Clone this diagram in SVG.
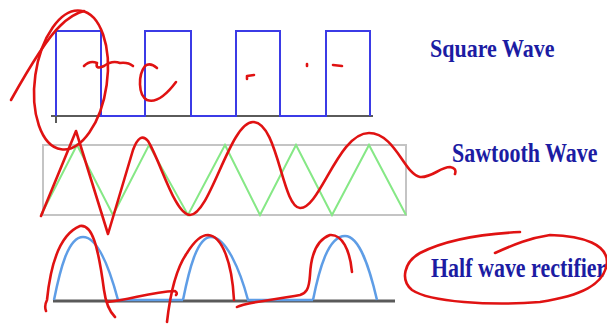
<svg xmlns="http://www.w3.org/2000/svg" width="607" height="324" viewBox="0 0 607 324">
<style>
.lbl{font-family:"Liberation Serif","Times New Roman",serif;font-weight:bold;font-size:22px;fill:#1c1ca3}
.axis{stroke:#5a5a5a;fill:none}
.sq{stroke:#3b3be6;stroke-width:2;fill:none}
.saw{stroke:#86e886;stroke-width:2;fill:none}
.box{stroke:#c4c4c4;stroke-width:2;fill:none}
.hw{stroke:#5e9de6;stroke-width:2.5;fill:none}
.ink{stroke:#e01212;stroke-width:2.6;fill:none;stroke-linecap:round;stroke-linejoin:round}
</style>
<rect width="607" height="324" fill="#ffffff"/>
<g id="square-wave">
<path class="axis" stroke-width="2" d="M51,116 H373 M56,116 V123"/>
<path class="sq" d="M56,116 V31 H101 V116 H145 V31 H191 V116 H236 V31 H280 V116 H326 V31 H370 V116"/>
</g>
<g id="sawtooth-wave">
<rect class="box" x="43" y="145" width="363" height="70"/>
<path class="saw" d="M41,215 L77,145 L113,215 L149,145 L188,215 L225,145 L260,215 L296,145 L332,215 L369,145 L406,215"/>
</g>
<g id="half-wave">
<path class="axis" stroke-width="3" d="M53,301 H395"/>
<path class="hw" d="M118,300 H183 M247,300 H313"/>
<path class="hw" d="M54,300 C60,270 68,237 83,237 C98,237 110,270 118,300"/>
<path class="hw" d="M183,300 C189,270 197,237 211,237 C226,237 240,270 248,300"/>
<path class="hw" d="M313,300 C319,270 328,236 345,236 C360,236 370,270 377,300"/>
</g>
<g id="labels">
<text class="lbl" transform="translate(430,57) scale(1,1.15)">Square Wave</text>
<text class="lbl" transform="translate(452,162) scale(1,1.27)">Sawtooth Wave</text>
<text class="lbl" transform="translate(431,277) scale(1,1.27)">Half wave rectifier</text>
</g>
<g id="annotations">
<path class="ink" d="M11,100 C25,75 45,40 60,26 C68,18 76,13 84,11"/>
<ellipse class="ink" cx="71" cy="80" rx="36" ry="70" transform="rotate(8 71 80)"/>
<path class="ink" d="M84,66 Q90,60 97,63 Q95,70 104,66 Q112,60 120,63 Q128,62 133,66"/>
<path class="ink" d="M157,68 Q150,62 145,66 C138,75 138,95 147,100 C158,104 170,90 176,82"/>
<path class="ink" d="M247,76 L254,75 M247,76 L247,79"/>
<path class="ink" d="M307,64 L307,66"/>
<path class="ink" d="M333,65 L342,66"/>
<path class="ink" d="M41,216 L76,131 L108,234 L133,150 Q140,131 148,141 C160,160 175,215 190,215 C210,215 230,122 253,122 C278,122 282,207 300,208 C320,209 338,133 369,133 C395,133 405,175 420,177 C432,178 440,167 450,167 Q457,168 455,174"/>
<path class="ink" d="M46,311 Q44,306 47,300 C50,270 58,235 80,226 C92,224 98,245 104,290 C106,305 110,312 115,317"/>
<path class="ink" d="M107,302 C130,300 150,292 175,291 Q178,293 176,295"/>
<path class="ink" d="M167,322 C170,295 175,270 187,253 C195,240 202,235 208,235 C222,236 232,262 234,300"/>
<path class="ink" d="M237,307 C245,302 275,300 300,295 C306,293 309,290 310,275 C311,255 316,240 330,235 C342,234 350,250 352,272"/>
<path class="ink" d="M495,253 C515,244 530,238 550,235 C585,236 607,245 607,262 C605,285 580,296 540,302 C490,306 430,302 412,290 C400,280 404,262 420,253 C445,240 480,234 520,232"/>
</g>
</svg>
